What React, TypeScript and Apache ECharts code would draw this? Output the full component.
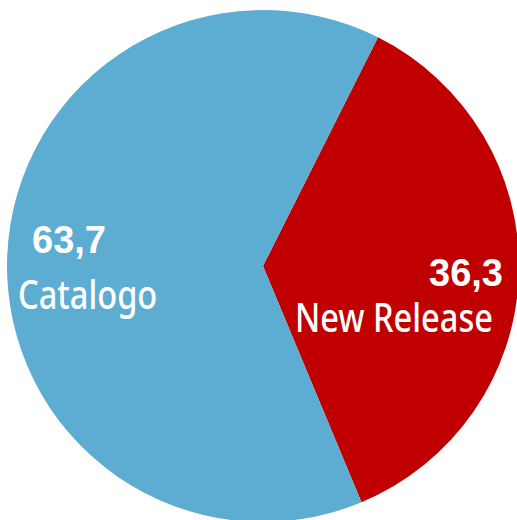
import React, { useEffect, useRef } from "react";
import * as echarts from "echarts";

const categories = ["New Release", "Catalogo"];
const values = [36.3, 63.7];
const colors = ["#C00000", "#5DADD2"];

const fmt = (v: number) => v.toFixed(1).replace(".", ",");

export default function App() {
  const ref = useRef<HTMLDivElement>(null);
  useEffect(() => {
    if (!ref.current) return;
    const chart = echarts.init(ref.current, null, { renderer: "svg" });
    const labelPos = [
      { vx: 503, vy: 273, valign: "right", nx: 493, ny: 317, nalign: "right" },
      { vx: 32, vy: 240, valign: "left", nx: 18, ny: 294, nalign: "left" },
    ];
    const graphics: any[] = [];
    categories.forEach((c, i) => {
      const p = labelPos[i];
      graphics.push({
        type: "text",
        z: 100,
        x: p.vx,
        y: p.vy,
        style: {
          text: fmt(values[i]),
          fill: "#ffffff",
          fontSize: 38,
          fontWeight: "bold",
          fontFamily: "'Liberation Sans', Arial, sans-serif",
          align: p.valign,
          verticalAlign: "middle",
        },
      });
      graphics.push({
        type: "text",
        z: 100,
        x: p.nx,
        y: p.ny,
        scaleX: 0.815,
        style: {
          text: c,
          fill: "#ffffff",
          fontSize: 40,
          fontWeight: 500,
          fontFamily: "'Noto Sans', sans-serif",
          align: p.nalign,
          verticalAlign: "middle",
        },
      });
    });
    chart.setOption({
      animation: false,
      series: [
        {
          type: "pie",
          center: [263, 266],
          radius: 256,
          startAngle: 63.3,
          clockwise: true,
          label: { show: false },
          labelLine: { show: false },
          emphasis: { disabled: true },
          itemStyle: { borderWidth: 0 },
          data: categories.map((c, i) => ({
            name: c,
            value: values[i],
            itemStyle: { color: colors[i] },
          })),
        },
      ],
      graphic: graphics,
    });
    return () => chart.dispose();
  }, []);
  return (
    <div
      ref={ref}
      style={{ position: "fixed", left: 0, top: 0, width: 517, height: 520, background: "#fff" }}
    />
  );
}
